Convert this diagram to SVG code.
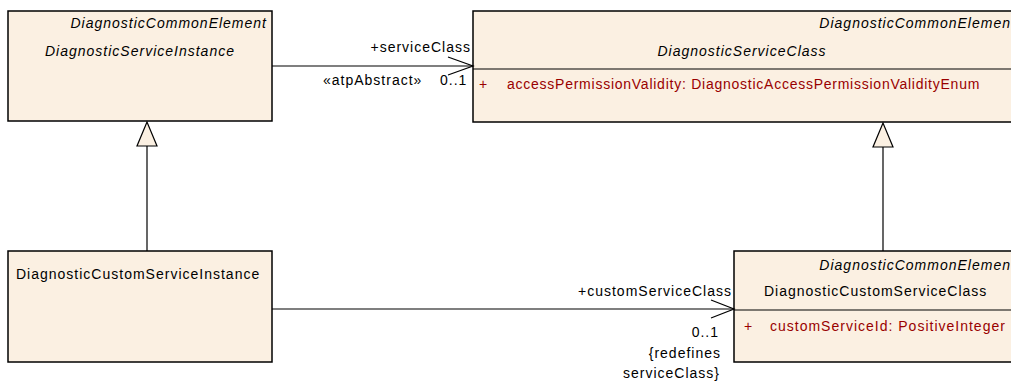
<svg xmlns="http://www.w3.org/2000/svg" width="1011" height="383" viewBox="0 0 1011 383">
<style>
.box{fill:#FBF0E2;stroke:#000;stroke-width:1.5}
.ln{stroke:#000;stroke-width:1.2;fill:none}
text{font-family:"Liberation Sans",Arial,sans-serif;font-size:14px;letter-spacing:1px;fill:#000}
.it{font-style:italic}
.attr{fill:#990000}
.nar{letter-spacing:0.75px}
.r{text-anchor:end}
.m{text-anchor:middle}
.tri{fill:#FBF0E2;stroke:#000;stroke-width:1.2}
</style>
<g id="DiagnosticServiceInstance">
<rect class="box" x="8" y="11" width="264" height="110"/>
<text class="it r" x="267" y="28">DiagnosticCommonElement</text>
<text class="it" x="45" y="56">DiagnosticServiceInstance</text>
</g>
<g id="DiagnosticServiceClass">
<rect class="box" x="473" y="11" width="560" height="111"/>
<line class="ln" x1="473" y1="69" x2="1011" y2="69"/>
<text class="it r" x="1011" y="28">DiagnosticCommonElemen</text>
<text class="it m" x="742" y="56">DiagnosticServiceClass</text>
<text class="attr" x="479" y="89">+</text>
<text class="attr nar" x="507" y="89">accessPermissionValidity: DiagnosticAccessPermissionValidityEnum</text>
</g>
<g id="DiagnosticCustomServiceInstance">
<rect class="box" x="8" y="251" width="264" height="111"/>
<text x="16" y="279">DiagnosticCustomServiceInstance</text>
</g>
<g id="DiagnosticCustomServiceClass">
<rect class="box" x="734" y="251" width="300" height="111"/>
<line class="ln" x1="734" y1="310" x2="1011" y2="310"/>
<text class="it r" x="1011" y="270">DiagnosticCommonElemen</text>
<text x="764" y="296">DiagnosticCustomServiceClass</text>
<text class="attr" x="744" y="331">+</text>
<text class="attr" x="770" y="331">customServiceId: PositiveInteger</text>
</g>
<g id="connectors">
<line class="ln" x1="272" y1="66" x2="473" y2="66"/>
<polyline class="ln" points="448,57 473,66 448,75"/>
<text class="r" x="471" y="52">+serviceClass</text>
<text x="323" y="85">«atpAbstract»</text>
<text x="440" y="85">0..1</text>
<line class="ln" x1="272" y1="309" x2="734" y2="309"/>
<polyline class="ln" points="711,300 734,309 711,318"/>
<text class="r" x="732" y="296">+customServiceClass</text>
<text class="r" x="719" y="337">0..1</text>
<text class="r" x="721" y="358">{redefines</text>
<text class="r" x="720" y="378">serviceClass}</text>
<line class="ln" x1="147" y1="146" x2="147" y2="251"/>
<polygon class="tri" points="147,122 137,146 157,146"/>
<line class="ln" x1="883" y1="147" x2="883" y2="251"/>
<polygon class="tri" points="883,123 873,147 893,147"/>
</g>
</svg>
